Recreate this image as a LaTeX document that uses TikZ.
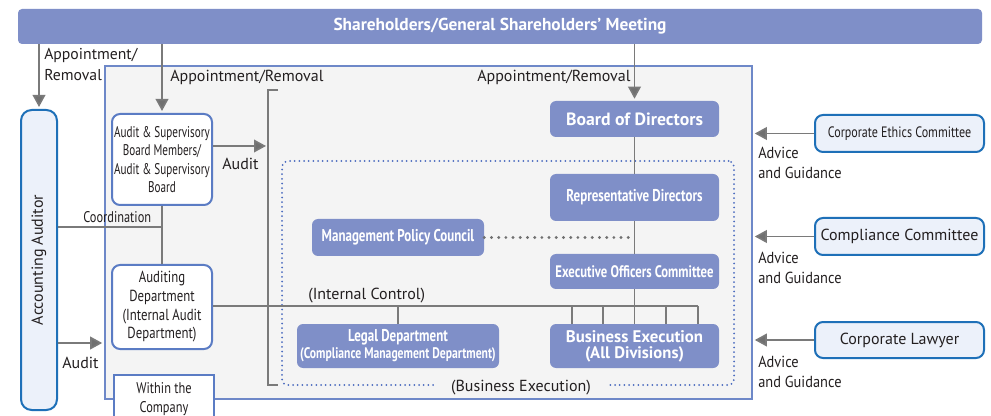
\documentclass[tikz,border=0pt]{standalone}
\usepackage{fontspec}
\setmainfont{PT Sans}
\newfontfamily\fN{PT Sans}
\newfontfamily\fK{PT Sans}[FakeStretch=0.9]
\newfontfamily\fM{PT Sans}[FakeStretch=0.8]
\newfontfamily\fE{PT Sans}[FakeStretch=0.76]
\newfontfamily\fC{PT Sans}[FakeStretch=0.72]
\usetikzlibrary{arrows.meta}
\definecolor{navyfill}{HTML}{7F8FC8}
\definecolor{bgray}{HTML}{F4F4F4}
\definecolor{boxblue}{HTML}{5B7CC4}
\definecolor{frameblue}{HTML}{6E88C8}
\definecolor{strongblue}{HTML}{1E70B8}
\definecolor{lightfill}{HTML}{ECF1FA}
\definecolor{lgray}{HTML}{7A7A7A}
\definecolor{agray}{HTML}{707070}
\definecolor{dotblue}{HTML}{4A6BBF}
\definecolor{txt}{HTML}{231F20}
\begin{document}
\begin{tikzpicture}[x=0.75pt,y=-0.75pt,
  darkbox/.style={fill=navyfill, rounded corners=4.5pt, inner sep=0pt, text=white, align=center},
  wbox/.style={draw=boxblue, line width=1.5pt, fill=white, rounded corners=6pt, inner sep=0pt, align=center, text=txt},
  sbox/.style={draw=strongblue, line width=1.5pt, fill=lightfill, rounded corners=6pt, inner sep=0pt, align=center, text=txt},
  lbl/.style={text=txt, inner sep=0pt, anchor=base west, font={\fN\fontsize{12pt}{15pt}\selectfont}},
  conn/.style={draw=lgray, line width=1.2pt},
  arr/.style={conn, -{Triangle[width=9.5pt,length=9pt,fill=agray]}, shorten >=1.5pt},
  dotframe/.style={draw=dotblue, line width=1.5pt, dash pattern=on 0pt off 3.5pt, line cap=round, rounded corners=4pt, inner sep=0pt},
  graydots/.style={draw=agray, line width=2.4pt, dash pattern=on 0pt off 5.4pt, line cap=round}
]
\useasboundingbox (0,0) rectangle (991,416);
\clip (0,0) rectangle (991,416);
\fill[white] (0,0) rectangle (991,416);

% top bar
\node[fill=navyfill, rounded corners=3pt, inner sep=0pt, minimum width=723pt, minimum height=26.25pt, text=white,
  font={\fN\bfseries\fontsize{13pt}{15pt}\selectfont}] (sh) at (500,26.5) {Shareholders/General Shareholders’ Meeting};

% inner frame
\node[draw=frameblue, line width=1.2pt, fill=bgray, inner sep=0pt, minimum width=485.25pt, minimum height=249.75pt] (inner) at (428.5,232.5) {};

% dotted business execution area
\node[dotframe, minimum width=339pt, minimum height=168pt] (area) at (508,273) {};

% bracket
\coordinate (brT) at (268,90);
\coordinate (brB) at (268,385);
\draw[conn] ([xshift=7.5pt]brT) -- (brT) -- (brB) -- ([xshift=7.5pt]brB);

% left boxes
\node[sbox, rounded corners=8pt, minimum width=27pt, minimum height=225pt] (aa) at (39,260) {};
\node[rotate=90, text=txt, inner sep=0pt, font={\fN\fontsize{12pt}{14pt}\selectfont}] (aat) at (aa.center) {Accounting Auditor};

\node[wbox, minimum width=75pt, minimum height=68.25pt, font={\fC\fontsize{11.6pt}{13.75pt}\selectfont}] (as) at (162,159.5)
  {Audit \& Supervisory\\Board Members/\\Audit \& Supervisory\\Board};
\node[wbox, minimum width=75pt, minimum height=63pt, font={\fM\fontsize{12pt}{14pt}\selectfont}] (ad) at (162,307)
  {Auditing\\Department\\(Internal Audit\\Department)};
\node[draw=boxblue, line width=1.5pt, fill=white, inner sep=0pt, align=center, text=txt, minimum width=75pt, minimum height=36pt,
  font={\fM\fontsize{11.6pt}{14.25pt}\selectfont}] (wc) at (164,399) {Within the\\Company};

% dark boxes
\node[darkbox, minimum width=126.75pt, minimum height=27pt, font={\fN\bfseries\fontsize{13.3pt}{15pt}\selectfont}] (bod) at (634.5,119) {Board of Directors};
\node[darkbox, minimum width=126.75pt, minimum height=35.25pt, font={\fE\bfseries\fontsize{12.8pt}{15pt}\selectfont}] (rd) at (634.5,197.5) {Representative Directors};
\node[darkbox, minimum width=126.75pt, minimum height=26.25pt, font={\fE\bfseries\fontsize{12.5pt}{15pt}\selectfont}] (eoc) at (634.5,271.5) {Executive Officers Committee};
\node[darkbox, minimum width=129pt, minimum height=27.75pt, font={\fE\bfseries\fontsize{12.8pt}{15pt}\selectfont}] (mpc) at (398,237.5) {Management Policy Council};
\node[darkbox, minimum width=151.5pt, minimum height=33pt, font={\fE\bfseries\fontsize{12.8pt}{12.75pt}\selectfont}] (ld) at (398,346)
  {Legal Department\\{\fontsize{11.5pt}{12.75pt}\selectfont (Compliance Management Department)}};
\node[darkbox, minimum width=126.75pt, minimum height=33pt, font={\fN\bfseries\fontsize{12.6pt}{12pt}\selectfont}] (be) at (634.5,346)
  {Business Execution\\{\fontsize{12.5pt}{12pt}\selectfont (All Divisions)}};

% right boxes
\node[sbox, minimum width=126.75pt, minimum height=27.75pt, font={\fM\fontsize{11.3pt}{14pt}\selectfont}] (cec) at (899.5,133.5) {Corporate Ethics Committee};
\node[sbox, minimum width=126.75pt, minimum height=27.75pt, font={\fN\fontsize{12pt}{14pt}\selectfont}] (cc) at (899.5,236.5) {Compliance Committee};
\node[sbox, minimum width=126.75pt, minimum height=27pt, font={\fN\fontsize{12pt}{14pt}\selectfont}] (cl) at (899.5,340) {Corporate Lawyer};

% appointment arrows
\draw[arr] (aa.north |- sh.south) -- (aa.north);
\draw[arr] (as.north |- sh.south) -- (as.north);
\draw[arr] (bod.north |- sh.south) -- (bod.north);
\node[lbl, anchor=north west, align=left, font={\fN\fontsize{11.8pt}{15.75pt}\selectfont}] at (44,48) {Appointment/\\Removal};
\node[lbl] at (170,82) {Appointment/Removal};
\node[lbl] at (477,82) {Appointment/Removal};

% audit from A&S board
\coordinate (auY) at (0,146);
\draw[arr] (as.east |- auY) -- (brT |- auY);
\node[lbl] at (222,170) {Audit};

% coordination
\coordinate (coY) at (0,227);
\draw[conn] (as.south) -- (ad.north);
\draw[conn] (aa.east |- coY) -- (as.south |- coY);
\node[lbl, font={\fM\fontsize{11.6pt}{14pt}\selectfont}] at (83,223) {Coordination};

% audit from accounting auditor
\coordinate (laY) at (0,343);
\draw[arr] (aa.east |- laY) -- (inner.west |- laY);
\node[lbl] at (62,368) {Audit};

% management chain
\draw[conn] (bod.south) -- (rd.north);
\draw[conn] (rd.south) -- (eoc.north);
\draw[conn] (eoc.south) -- (be.north);
\draw[graydots] (mpc.east) -- (mpc.east -| rd.south);

% internal control bus
\coordinate (icE) at (698,306);
\draw[conn] (ad.east |- icE) -- (icE);
\node[lbl] at (308,300) {(Internal Control)};
\draw[conn] (ld.north |- icE) -- (ld.north);
\foreach \x in {572,603,666,698} \draw[conn] (\x,306) -- (\x,324);

% business execution label on the dotted frame
\node[lbl, anchor=base, fill=bgray, inner xsep=13pt, inner ysep=1pt] (belbl) at (521,391) {(Business Execution)};

% advice arrows
\draw[arr] (cec.west) -- (cec.west -| inner.east);
\draw[arr] (cc.west) -- (cc.west -| inner.east);
\draw[arr] (cl.west) -- (cl.west -| inner.east);
\node[lbl, anchor=north west, align=left, font={\fK\fontsize{12pt}{15pt}\selectfont}] at (758,147) {Advice\\and Guidance};
\node[lbl, anchor=north west, align=left, font={\fK\fontsize{12pt}{15pt}\selectfont}] at (758,252) {Advice\\and Guidance};
\node[lbl, anchor=north west, align=left, font={\fK\fontsize{12pt}{15pt}\selectfont}] at (758,356) {Advice\\and Guidance};
\end{tikzpicture}
\end{document}
